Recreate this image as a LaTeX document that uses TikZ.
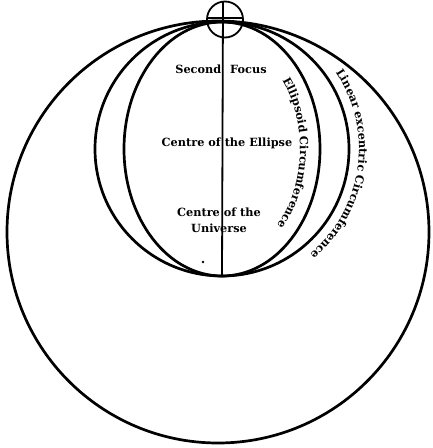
\documentclass[tikz,border=0pt]{standalone}
\usepackage{fontspec}
\setmainfont{DejaVu Serif}
\usetikzlibrary{decorations.text}
\newcommand{\lblfont}{\bfseries\fontsize{11.3}{12}\selectfont}
\tikzset{
  thick curve/.style={draw=black, line width=2.7pt},
  axis line/.style={draw=black, line width=1.8pt},
  lbl/.style={font=\lblfont, align=center, inner sep=0pt},
  curvedtext/.style={decorate, decoration={text along path, text align=center,
     text={|\lblfont|#1}}}
}
\begin{document}
\begin{tikzpicture}[x=1pt,y=1pt]
  \useasboundingbox[fill=white] (0,0) rectangle (433,448);
  % centres
  \coordinate (U) at (218,216);   % big circle centre
  \coordinate (E) at (222,299);   % ellipse / eccentric circle centre
  \coordinate (S) at (225,428.5); % small circle (sun sign)
  \coordinate (top) at (223,446);
  \coordinate (bot) at (222,171);
  % big circle
  \draw[thick curve] (U) circle[radius=211];
  % linear eccentric circumference
  \draw[thick curve] (E) circle[radius=127];
  % ellipse
  \draw[thick curve] (E) ellipse[x radius=98, y radius=127];
  % small circle with cross
  \draw[line width=1.8pt] (S) circle[radius=18];
  \coordinate (cl) at (207,430);
  \coordinate (cr) at (243,430);
  \draw[line width=1.8pt] (cl) -- (cr);
  \draw[axis line] (top) -- (bot);
  % dot
  \fill (203,186) circle[radius=1.3];
  % labels
  \node[lbl] (sf) at (221,379) {Second\hspace{9pt}Focus};
  \node[lbl] (ce) at (227,305) {Centre of the Ellipse};
  \node[lbl] (cu) at (219,228) {Centre of the\\[4pt]Universe};
  % curved labels
  \path[curvedtext={Ellipsoid Circumference}]
    (E) ++(42:78 and 108) arc[start angle=42, end angle=-48, x radius=78, y radius=108];
  \path[curvedtext={Linear excentric Circumference}]
    (E) ++(36:137) arc[start angle=36, end angle=-52, radius=137];
\end{tikzpicture}
\end{document}
